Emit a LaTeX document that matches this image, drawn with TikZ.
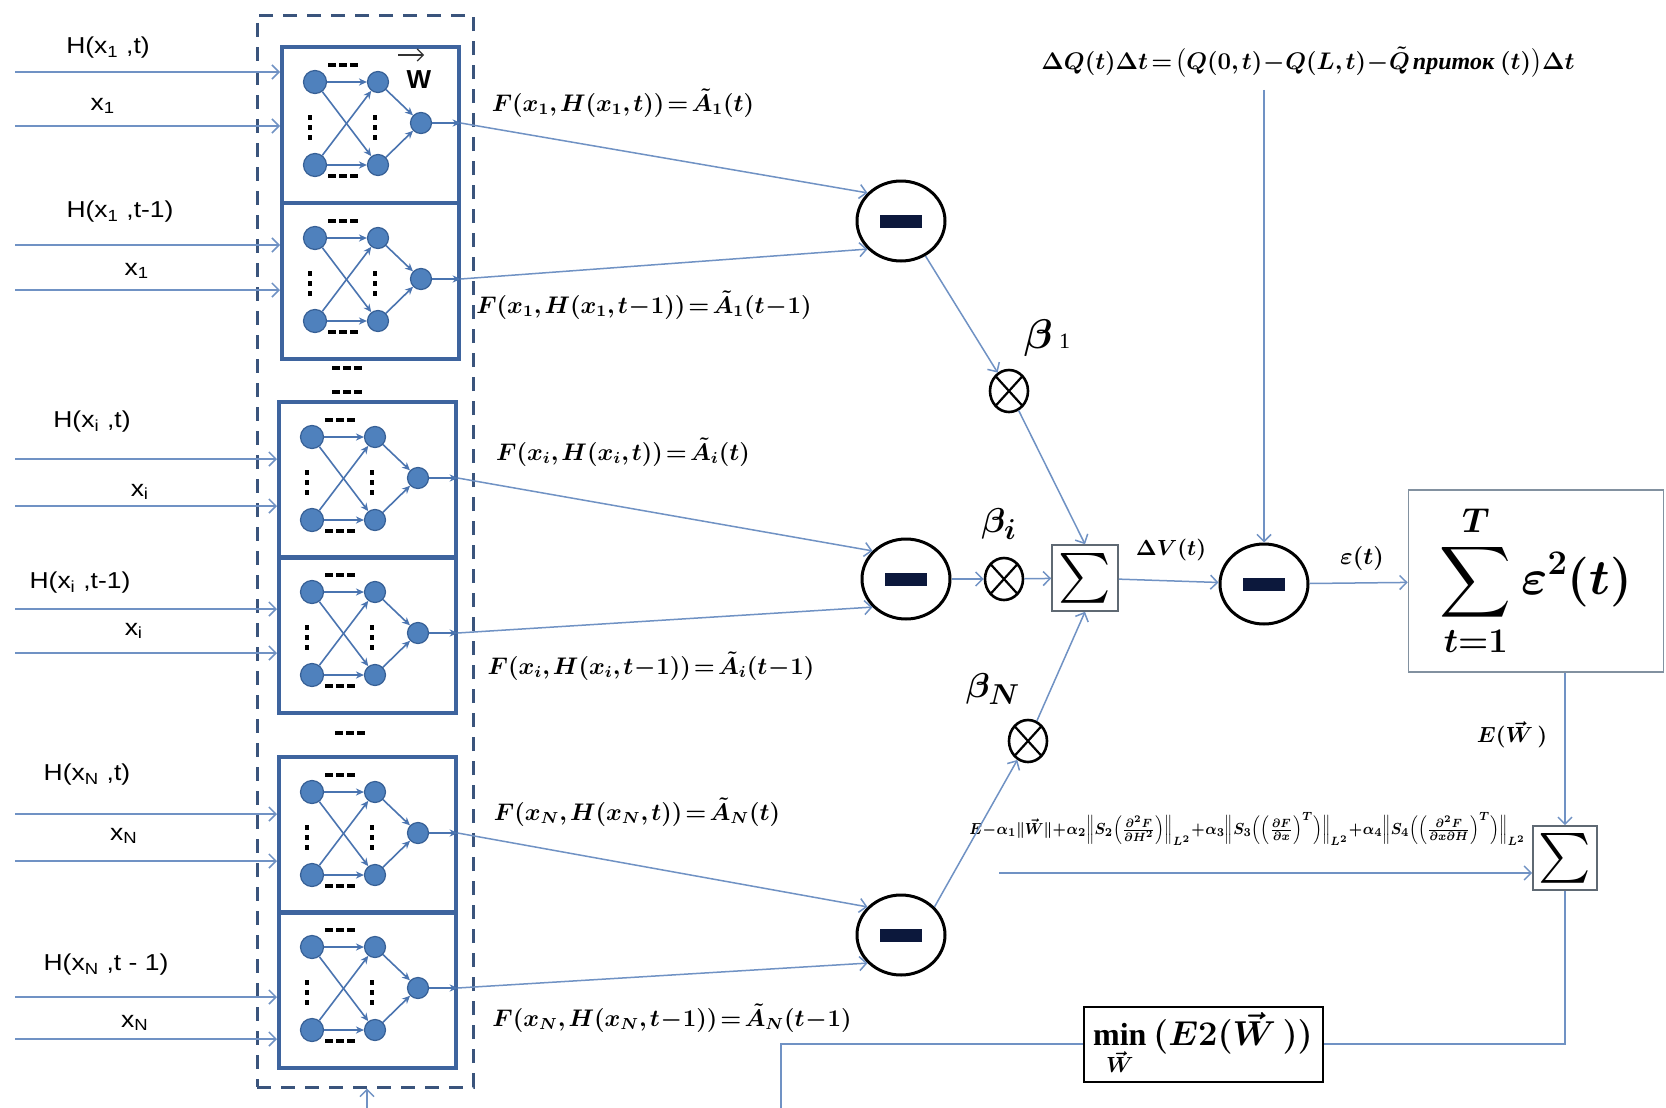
\documentclass[tikz,border=0pt]{standalone}
\usepackage{amsmath}
\usepackage{fontspec}
\setmainfont{Liberation Serif}
\newfontfamily\lab{Liberation Sans}
\usetikzlibrary{arrows.meta,shapes.geometric,calc}

\definecolor{linkc}{RGB}{112,146,196}
\definecolor{framec}{RGB}{62,100,158}
\definecolor{dashc}{RGB}{58,84,124}
\definecolor{neurfill}{RGB}{79,129,189}
\definecolor{neurdraw}{RGB}{55,96,150}
\definecolor{sync}{RGB}{74,116,176}
\definecolor{barc}{RGB}{12,24,60}
\definecolor{boxgray}{RGB}{95,105,115}
\definecolor{bigboxc}{RGB}{130,145,160}

\newcommand{\tightmath}{\thickmuskip=2mu plus 1mu\medmuskip=0.5mu\thinmuskip=2mu}

\tikzset{
 link/.style={draw=linkc, line width=0.75pt, -{Straight Barb[length=3.5pt,width=7pt]}},
 plainlink/.style={draw=linkc, line width=0.75pt},
 netframe/.style={draw=framec, line width=1.8pt, rectangle, inner sep=0pt, minimum width=88.5pt, minimum height=78pt, anchor=north west},
 neuron/.style={circle, fill=neurfill, draw=neurdraw, line width=0.6pt, inner sep=0pt, minimum size=11.5pt},
 hneuron/.style={neuron, minimum size=10.5pt},
 syn/.style={draw=sync, line width=0.8pt, -{Stealth[length=4pt,width=3.6pt]}},
 inlab/.style={font=\lab\fontsize{11.5}{12}\selectfont, xscale=1.15, inner sep=0pt},
 fml/.style={font=\fontsize{12}{14}\selectfont\boldmath\tightmath, inner sep=0pt},
 minusop/.style={ellipse, draw=black, line width=1.5pt, minimum width=44pt, minimum height=40pt, inner sep=0pt, fill=white,
   path picture={\fill[barc] (path picture bounding box.center) ++(-10.5pt,-3.25pt) rectangle ++(21pt,6.5pt);}},
 mulop/.style={ellipse, draw=black, line width=1.3pt, minimum width=19pt, minimum height=21pt, inner sep=0pt,
   path picture={\draw[black, line width=1.1pt] (path picture bounding box.north west) -- (path picture bounding box.south east) (path picture bounding box.north east) -- (path picture bounding box.south west);}},
 sumbox/.style={draw=boxgray, line width=0.8pt, rectangle, inner sep=0pt, minimum width=33pt, minimum height=33pt, fill=white, font=\fontsize{24}{24}\selectfont},
 bigsum/.style={draw=bigboxc, line width=0.8pt, rectangle, minimum width=127.5pt, minimum height=91pt, inner sep=0pt, font=\fontsize{25}{30}\selectfont\boldmath},
 minstyle/.style={draw=black, line width=1pt, rectangle, minimum width=119.5pt, minimum height=37.5pt, inner sep=0pt, font=\fontsize{16}{19}\selectfont\boldmath},
 betalab/.style={inner sep=0pt, font=\fontsize{19}{19}\selectfont\boldmath},
}

\newcommand{\nethdots}[2]{\foreach \k in {-1,0,1}{\fill[black] (#1+\k*11-4,#2-2) rectangle ++(8,4);}}
\newcommand{\netvdots}[2]{\foreach \k in {-1,0,1}{\fill[black] (#1-1.8,#2+\k*10-2.5) rectangle ++(3.6,5);}}
\newcommand{\netunit}[3]{%
\begin{scope}[shift={(#2,#3)}]
 \node[netframe] (#1box) at (0,0) {};
 \node[neuron] (#1i1) at (35,37) {};
 \node[neuron] (#1i2) at (35,120) {};
 \node[hneuron] (#1h1) at (98,37) {};
 \node[hneuron] (#1h2) at (98,120) {};
 \node[hneuron] (#1o) at (141,78) {};
 \draw[syn] (#1i1) -- (#1h1);
 \draw[syn] (#1i1) -- (#1h2);
 \draw[syn] (#1i2) -- (#1h1);
 \draw[syn] (#1i2) -- (#1h2);
 \draw[syn] (#1h1) -- (#1o);
 \draw[syn] (#1h2) -- (#1o);
 \coordinate (#1e) at (#1o -| #1box.east);
 \draw[syn] (#1o) -- (#1e);
 \nethdots{63}{20}\nethdots{63}{131}\netvdots{30}{82}\netvdots{95}{82}
\end{scope}}

\begin{document}
\begin{tikzpicture}[x=0.5pt,y=-0.5pt]
\useasboundingbox (0,0) rectangle (1666,1108);
\fill[white] (0,0) rectangle (1666,1108);
\clip (0,0) rectangle (1666,1108);

\node[draw=dashc, line width=1.5pt, dash pattern=on 7pt off 5pt, minimum width=108pt, minimum height=536pt, inner sep=0pt] (dashbox) at (365,551) {};

\netunit{b1}{280}{45}
\netunit{b2}{280}{201}
\netunit{b3}{277}{400}
\netunit{b4}{277}{555}
\netunit{b5}{277}{755}
\netunit{b6}{277}{910}

\nethdots{347}{368}
\nethdots{347}{392}
\nethdots{350}{733}

\node[font=\lab\bfseries\fontsize{13}{13}\selectfont, inner sep=0pt] (wlab) at (419,80) {W};
\coordinate (wa) at (398,55);
\coordinate (wb) at (424,55);
\draw[-{Straight Barb[length=3pt,width=6pt]}, line width=0.6pt, black!80] (wa) -- (wb);

\coordinate (a11) at (15,72);   \coordinate (a12) at (15,126);
\coordinate (a21) at (15,245);  \coordinate (a22) at (15,290);
\coordinate (a31) at (15,459);  \coordinate (a32) at (15,506);
\coordinate (a41) at (15,609);  \coordinate (a42) at (15,653);
\coordinate (a51) at (15,814);  \coordinate (a52) at (15,861);
\coordinate (a61) at (15,997);  \coordinate (a62) at (15,1039);
\foreach \u in {1,...,6}{
  \draw[link] (a\u1) -- (a\u1 -| b\u box.west);
  \draw[link] (a\u2) -- (a\u2 -| b\u box.west);
}

\node[inlab] (l11) at (108,48) {H(x\textsubscript{1} ,t)};
\node[inlab] (l12) at (103,106) {x\textsubscript{1}};
\node[inlab] (l21) at (120,212) {H(x\textsubscript{1} ,t-1)};
\node[inlab] (l22) at (137,271) {x\textsubscript{1}};
\node[inlab] (l31) at (92,422) {H(x\textsubscript{i} ,t)};
\node[inlab] (l32) at (140,492) {x\textsubscript{i}};
\node[inlab] (l41) at (80,583) {H(x\textsubscript{i} ,t-1)};
\node[inlab] (l42) at (134,631) {x\textsubscript{i}};
\node[inlab] (l51) at (87,775) {H(x\textsubscript{N} ,t)};
\node[inlab] (l52) at (124,836) {x\textsubscript{N}};
\node[inlab] (l61) at (106,965) {H(x\textsubscript{N} ,t - 1)};
\node[inlab] (l62) at (135,1023) {x\textsubscript{N}};

\node[fml] (f1) at (623,103) {$F(x_1,H(x_1,t))=\tilde{A}_1(t)$};
\node[fml] (f2) at (644,305) {$F(x_1,H(x_1,t-1))=\tilde{A}_1(t-1)$};
\node[fml] (f3) at (623,452) {$F(x_i,H(x_i,t))=\tilde{A}_i(t)$};
\node[fml] (f4) at (651,666) {$F(x_i,H(x_i,t-1))=\tilde{A}_i(t-1)$};
\node[fml] (f5) at (637,812) {$F(x_N,H(x_N,t))=\tilde{A}_N(t)$};
\node[fml] (f6) at (672,1018) {$F(x_N,H(x_N,t-1))=\tilde{A}_N(t-1)$};

\node[minusop] (c1) at (901,221) {};
\node[minusop] (c2) at (906,579) {};
\node[minusop] (c3) at (901,935) {};
\node[minusop] (c4) at (1264,584) {};
\node[mulop] (o1) at (1009,391) {};
\node[mulop] (o2) at (1004,579) {};
\node[mulop] (o3) at (1028,741) {};
\node[sumbox] (s1) at (1085,578) {$\textstyle\sum$};
\node[sumbox, minimum width=32pt, minimum height=32pt] (s2) at (1565,858) {$\textstyle\sum$};
\node[bigsum] (bigs) at (1536,581) {$\displaystyle\sum_{t=1}^{T}\varepsilon^{2}(t)$};
\node[minstyle] (minb) at (1203,1044) {$\min\limits_{\vec W}\,(E2(\vec W\,))$};

\node[inner sep=0pt, font=\fontsize{20}{20}\selectfont\boldmath] (beta1) at (1047,338) {$\beta$\,\fontsize{11}{11}\selectfont 1};
\node[betalab] (betai) at (999,524) {$\beta_{i}$};
\node[betalab] (betan) at (993,689) {$\beta_{N}$};

\node[inner sep=0pt, font=\fontsize{10.5}{12}\selectfont\boldmath\tightmath] (dv) at (1171,550) {$\Delta V(t)$};
\node[inner sep=0pt, font=\fontsize{13}{14}\selectfont\boldmath] (eps) at (1362,558) {$\varepsilon(t)$};
\node[inner sep=0pt, font=\fontsize{11}{12}\selectfont\boldmath] (ew) at (1512,735) {$E(\vec W\,)$};

\node[fml, font=\fontsize{12}{14}\selectfont\boldmath\tightmath] (topf) at (1308,62) {$\Delta Q(t)\Delta t=\bigl(Q(0,t)-Q(L,t)-\tilde{Q}\,\text{\bfseries\itshape приток}\ (t)\bigr)\Delta t$};

\node[inner sep=0pt, anchor=east, xscale=0.88, font=\fontsize{8.2}{10}\selectfont\boldmath\tightmath] (regf) at (1526,829) {$E-\alpha_1\|\vec W\|+\alpha_2\Bigl\|S_2\Bigl(\frac{\partial^2F}{\partial H^2}\Bigr)\Bigr\|_{L^2}+\alpha_3\Bigl\|S_3\Bigl(\Bigl(\frac{\partial F}{\partial x}\Bigr)^{T}\Bigr)\Bigr\|_{L^2}+\alpha_4\Bigl\|S_4\Bigl(\Bigl(\frac{\partial^2F}{\partial x\partial H}\Bigr)^{T}\Bigr)\Bigr\|_{L^2}$};
\coordinate (regs) at (999,873);

\draw[link] (b1e) -- (c1.140);
\draw[link] (b2e) -- (c1.220);
\draw[link] (b3e) -- (c2.140);
\draw[link] (b4e) -- (c2.220);
\draw[link] (b5e) -- (c3.140);
\draw[link] (b6e) -- (c3.220);
\draw[link] (c1.-55) -- (o1);
\draw[link] (o1) -- (s1.north);
\draw[link] (c2) -- (o2);
\draw[link] (o2) -- (s1);
\draw[link] (c3.40) -- (o3);
\draw[link] (o3) -- (s1.south);
\draw[link] (s1) -- (c4);
\draw[link] (c4) -- (bigs);
\draw[link, shorten <=6pt] (topf.south -| c4) -- (c4);
\draw[link] (bigs.south -| s2) -- (s2);
\draw[link] (regs) -- (regs -| s2.west);
\draw[plainlink] (s2) |- (minb.east);
\coordinate (fb1) at (781,1125);
\coordinate (fb2) at (367,1125);
\draw[link] (minb.west) -| (fb1) -- (fb2) -- (fb2 |- dashbox.south);
\end{tikzpicture}
\end{document}
